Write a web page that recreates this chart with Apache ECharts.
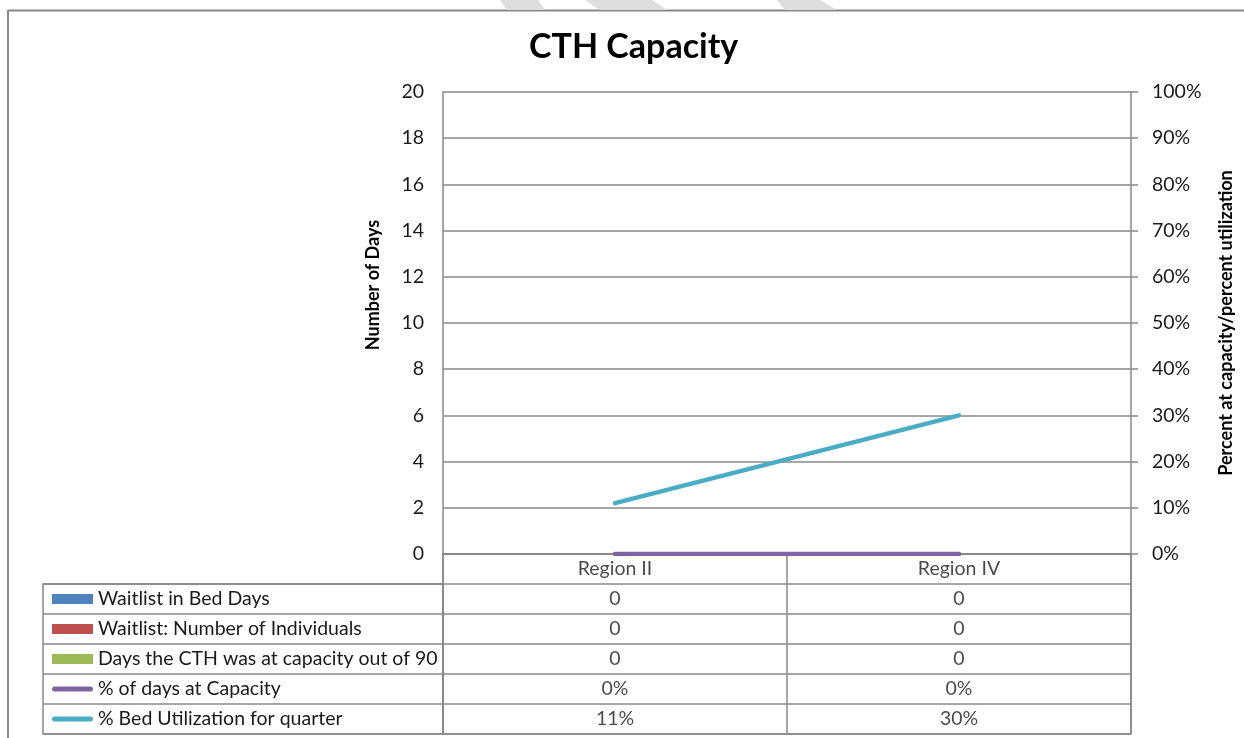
<!DOCTYPE html>
<html>
<head>
<meta charset="utf-8">
<title>CTH Capacity</title>
<script src="https://cdn.jsdelivr.net/npm/echarts@6/dist/echarts.min.js"></script>
<style>
  html, body { margin: 0; padding: 0; background: #fff; }
  #chart { width: 1244px; height: 738px; }
</style>
</head>
<body>
<div id="chart"></div>
<script>
// data
const categories = [ 'Region II', 'Region IV' ];
const waitlistBedDays = [ 0, 0 ];
const waitlistIndividuals = [ 0, 0 ];
const daysAtCapacity = [ 0, 0 ];
const pctDaysAtCapacity = [ 0, 0 ];
const pctBedUtilization = [ 0.11, 0.30 ];

const seriesNames = [
    'Waitlist in Bed Days',
    'Waitlist: Number of Individuals',
    'Days the CTH was at capacity out of 90',
    '% of days at Capacity',
    '% Bed Utilization for quarter'
];
const seriesColors = [ '#4F81BD', '#C0504D', '#9BBB59', '#8064A2', '#4BACC6' ];

const FONT = 'Lato, "Open Sans", sans-serif';
const FS = 19.5;
const GRID_COLOR = '#888888';
const TEXT_COLOR = '#1a1a1a';

// thick rounded line icon for the line series keys (box 41x10)
const LINE_ICON = 'path://M0,0M41,10M2.5,2.5L38.5,2.5A2.5,2.5,0,0,1,38.5,7.5L2.5,7.5A2.5,2.5,0,0,1,2.5,2.5Z';

const pct = v => Math.round( v * 100 ) + '%';

// table cells: [column, row, text]
const rows = [ '' ].concat( seriesNames );
const tableCells = [];
categories.forEach( ( c, i ) => {
    tableCells.push( [ i, 0, c ] );
    tableCells.push( [ i, 1, String( waitlistBedDays[i] ) ] );
    tableCells.push( [ i, 2, String( waitlistIndividuals[i] ) ] );
    tableCells.push( [ i, 3, String( daysAtCapacity[i] ) ] );
    tableCells.push( [ i, 4, pct( pctDaysAtCapacity[i] ) ] );
    tableCells.push( [ i, 5, pct( pctBedUtilization[i] ) ] );
} );

const chart = echarts.init( document.getElementById( 'chart' ) );

const option = {
    backgroundColor: '#fff',
    animation: false,
    textStyle: { fontFamily: FONT },
    title: {
        text: 'CTH Capacity',
        left: 529,
        top: 30,
        padding: 0,
        textStyle: { fontFamily: FONT, fontSize: 34, fontWeight: 'bold', color: '#000' }
    },
    legend: {
        orient: 'vertical',
        left: 52,
        top: 589,
        padding: 0,
        itemGap: 10,
        itemWidth: 41,
        itemHeight: 10,
        selectedMode: false,
        data: seriesNames.map( ( n, i ) => i < 3 ? { name: n, icon: 'rect' } : { name: n, icon: LINE_ICON } ),
        textStyle: { fontFamily: FONT, fontSize: FS, lineHeight: 20, color: TEXT_COLOR }
    },
    grid: [
        { left: 443, right: 113, top: 92, bottom: 184 },
        { left: 443, right: 113, top: 554, bottom: 4, show: true, borderColor: GRID_COLOR, borderWidth: 1.5 },
        { left: 43, right: 801, top: 584, bottom: 4, show: true, borderColor: GRID_COLOR, borderWidth: 1.5 }
    ],
    xAxis: [
        {
            gridIndex: 0, type: 'category', data: categories,
            axisLine: { lineStyle: { color: GRID_COLOR, width: 1.5 } },
            axisTick: { show: false },
            axisLabel: { show: false }
        },
        {
            gridIndex: 1, type: 'category', data: categories,
            axisLine: { show: false }, axisTick: { show: false }, axisLabel: { show: false },
            splitLine: { show: true, lineStyle: { color: GRID_COLOR, width: 1.5 } }
        },
        {
            gridIndex: 2, type: 'category', data: [ '' ],
            axisLine: { show: false }, axisTick: { show: false }, axisLabel: { show: false }
        }
    ],
    yAxis: [
        {
            gridIndex: 0, type: 'value', min: 0, max: 20, interval: 2,
            axisLine: { show: true, lineStyle: { color: GRID_COLOR, width: 1.5 } },
            axisTick: { show: false },
            axisLabel: { margin: 19, fontSize: FS, color: TEXT_COLOR, fontFamily: FONT },
            splitLine: { lineStyle: { color: GRID_COLOR, width: 1.5 } }
        },
        {
            gridIndex: 0, type: 'value', position: 'right', min: 0, max: 1, interval: 0.1,
            name: 'Percent at capacity/percent utilization',
            nameLocation: 'middle', nameGap: 86, nameRotate: 90,
            nameTextStyle: { fontSize: 18, fontWeight: 'bold', color: '#000', fontFamily: FONT },
            axisLine: { show: true, lineStyle: { color: GRID_COLOR, width: 1.5 } },
            axisTick: { show: true, length: 7, lineStyle: { color: GRID_COLOR, width: 1.5 } },
            axisLabel: { margin: 21, fontSize: FS, color: TEXT_COLOR, fontFamily: FONT, formatter: v => pct( v ) },
            splitLine: { show: false }
        },
        {
            gridIndex: 1, type: 'category', data: rows, inverse: true,
            axisLine: { show: false }, axisTick: { show: false }, axisLabel: { show: false },
            splitLine: { show: true, lineStyle: { color: GRID_COLOR, width: 1.5 } }
        },
        {
            gridIndex: 2, type: 'category', data: seriesNames, inverse: true,
            axisLine: { show: false }, axisTick: { show: false }, axisLabel: { show: false },
            splitLine: { show: true, lineStyle: { color: GRID_COLOR, width: 1.5 } }
        }
    ],
    series: [
        { name: seriesNames[0], type: 'bar', xAxisIndex: 0, yAxisIndex: 0, data: waitlistBedDays, itemStyle: { color: seriesColors[0] } },
        { name: seriesNames[1], type: 'bar', xAxisIndex: 0, yAxisIndex: 0, data: waitlistIndividuals, itemStyle: { color: seriesColors[1] } },
        { name: seriesNames[2], type: 'bar', xAxisIndex: 0, yAxisIndex: 0, data: daysAtCapacity, itemStyle: { color: seriesColors[2] } },
        {
            name: seriesNames[3], type: 'line', xAxisIndex: 0, yAxisIndex: 1, data: pctDaysAtCapacity,
            symbol: 'none', itemStyle: { color: seriesColors[3] },
            lineStyle: { color: seriesColors[3], width: 4.5, cap: 'round' }
        },
        {
            name: seriesNames[4], type: 'line', xAxisIndex: 0, yAxisIndex: 1, data: pctBedUtilization,
            symbol: 'none', itemStyle: { color: seriesColors[4] },
            lineStyle: { color: seriesColors[4], width: 4.5, cap: 'round' }
        },
        {
            // data table cells
            type: 'scatter', xAxisIndex: 1, yAxisIndex: 2, data: tableCells,
            symbolSize: 1, itemStyle: { color: 'rgba(0,0,0,0)' },
            label: {
                show: true, position: 'inside',
                formatter: p => p.value[2],
                fontSize: FS, color: TEXT_COLOR, fontFamily: FONT
            },
            silent: true
        }
    ],
    graphic: [
        // outer chart border
        { type: 'line', shape: { x1: 8, y1: 10.5, x2: 1244, y2: 10.5 }, style: { stroke: GRID_COLOR, lineWidth: 2 } },
        { type: 'line', shape: { x1: 8, y1: 10, x2: 8, y2: 738 }, style: { stroke: GRID_COLOR, lineWidth: 2 } },
        // faint watermark fragments at the top edge
        { type: 'polygon', shape: { points: [ [ 500, 0 ], [ 538, 0 ], [ 545, 10 ], [ 507, 10 ] ] }, style: { fill: '#dedede' } },
        { type: 'polygon', shape: { points: [ [ 585, 0 ], [ 652, 0 ], [ 667, 10 ], [ 600, 10 ] ] }, style: { fill: '#dedede' } },
        { type: 'polygon', shape: { points: [ [ 777, 0 ], [ 820, 0 ], [ 837, 10 ], [ 785, 10 ] ] }, style: { fill: '#dedede' } },
        // left axis title
        {
            type: 'text', x: 373, y: 285, rotation: Math.PI / 2,
            style: {
                text: 'Number of Days', fontSize: 18, fontWeight: 'bold', fontFamily: FONT,
                fill: '#000', align: 'center', verticalAlign: 'middle'
            }
        }
    ]
};

chart.setOption( option );
</script>
</body>
</html>
